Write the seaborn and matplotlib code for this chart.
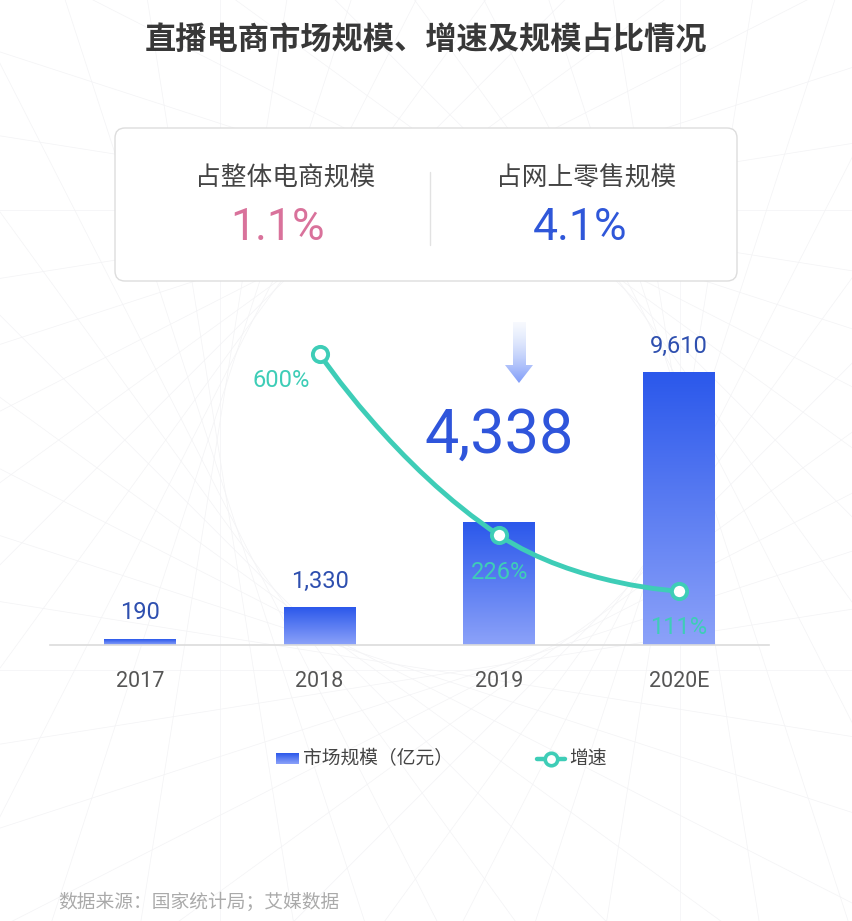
import numpy as np
import pandas as pd
import matplotlib
matplotlib.use('Agg')
import matplotlib.pyplot as plt
import seaborn as sns
from matplotlib.patches import FancyBboxPatch, Polygon, PathPatch
from matplotlib.path import Path
from matplotlib.lines import Line2D

# ---------------- data ----------------
years = ['2017', '2018', '2019', '2020E']
market_size = [190, 1330, 4338, 9610]
size_labels = ['190', '1,330', '4,338', '9,610']
growth_years = ['2018', '2019', '2020E']
growth_rate = [600, 226, 111]
growth_labels = ['600%', '226%', '111%']
title = '直播电商市场规模、增速及规模占比情况'
share_names = ['占整体电商规模', '占网上零售规模']
share_values = ['1.1%', '4.1%']
legend_names = ['市场规模（亿元）', '增速']
source = '数据来源：国家统计局；艾媒数据'

# ---------------- style ----------------
sns.set_theme(style='white')
plt.rcParams['font.family'] = ['Noto Sans CJK SC', 'DejaVu Sans']
NUM_FONT = ['Roboto', 'DejaVu Sans']
TEAL = '#3ECDB7'
BAR_TOP = np.array([43, 88, 235]) / 255
BAR_BOT = np.array([140, 162, 249]) / 255

W, H = 852, 921
fig = plt.figure(figsize=(W / 100, H / 100), dpi=100)
fig.patch.set_facecolor('white')

# background canvas in pixel units
bg = fig.add_axes([0, 0, 1, 1], zorder=0)
bg.set_xlim(0, W)
bg.set_ylim(H, 0)
bg.axis('off')

# very faint decorative line texture (tangents to a circle)
cx, cy, rr = 450, 440, 230
for ang in np.deg2rad(np.arange(0, 360, 9)):
    px, py = cx + rr * np.cos(ang), cy + rr * np.sin(ang)
    dx, dy = -np.sin(ang), np.cos(ang)
    bg.add_line(Line2D([px - 900 * dx, px + 900 * dx], [py - 900 * dy, py + 900 * dy],
                       color='#F3F3F5', lw=0.5, zorder=0.1))

# ---------------- bars ----------------
ax = fig.add_axes([50 / W, 276 / H, 719 / W, 345 / H], zorder=2)
ax.patch.set_alpha(0)
df = pd.DataFrame({'year': years, 'size': market_size})
sns.barplot(data=df, x='year', y='size', order=years, ax=ax, width=0.4,
            color='#2D5BEB', saturation=1)

t = np.linspace(0, 1, 256)[:, None, None]
grad_img = BAR_TOP * (1 - t) + BAR_BOT * t
for p in list(ax.patches):
    x0, y0, w, h = p.get_x(), p.get_y(), p.get_width(), p.get_height()
    ax.imshow(grad_img, extent=(x0, x0 + w, y0, y0 + h), aspect='auto',
              origin='upper', zorder=2)
    p.set_visible(False)

ax.set_xlim(-0.5, 3.5)
ax.set_ylim(0, 12180)
ax.set_xlabel('')
ax.set_ylabel('')
ax.set_yticks([])
ax.tick_params(axis='x', length=0, pad=19, labelsize=15.5, labelcolor='#555555')
for lab in ax.get_xticklabels():
    lab.set_family(NUM_FONT)
for s in ['left', 'right', 'top']:
    ax.spines[s].set_visible(False)
ax.spines['bottom'].set_color('#DCDCDC')
ax.spines['bottom'].set_linewidth(1.2)

# bar value labels
label_sizes = [17, 17, 44, 17]
label_offsets = [27, 26, 86, 26]
label_colors = ['#2E4FAF', '#2E4FAF', '#2F55DB', '#2E4FAF']
for i, (v, lab) in enumerate(zip(market_size, size_labels)):
    ax.annotate(lab, (i, v), xytext=(0, label_offsets[i]), textcoords='offset pixels',
                ha='center', va='center', fontsize=label_sizes[i],
                color=label_colors[i], family=NUM_FONT, zorder=6)

# ---------------- growth line ----------------
ax2 = ax.twinx()
ax2.set_zorder(3)
ax2.patch.set_alpha(0)
ax2.set_xlim(-0.5, 3.5)
ax2.set_ylim(0, 712)
ax2.set_yticks([])
for s in ax2.spines.values():
    s.set_visible(False)

gx = [years.index(y) for y in growth_years]
P = ax2.transData.transform(np.column_stack([gx, growth_rate]).astype(float))
n = len(P)
smooth = 0.5
cp_prev = [None] * n
cp_next = [None] * n
for i in range(n):
    if i == 0 or i == n - 1:
        cp_prev[i] = P[i]
        cp_next[i] = P[i]
    else:
        v = P[i + 1] - P[i - 1]
        d0 = np.linalg.norm(P[i] - P[i - 1])
        d1 = np.linalg.norm(P[i + 1] - P[i])
        cp_prev[i] = P[i] - v * smooth * d0 / (d0 + d1)
        cp_next[i] = P[i] + v * smooth * d1 / (d0 + d1)
verts = [P[0]]
codes = [Path.MOVETO]
for i in range(n - 1):
    verts += [cp_next[i], cp_prev[i + 1], P[i + 1]]
    codes += [Path.CURVE4] * 3
curve = Path(ax2.transData.inverted().transform(np.array(verts)), codes)
ax2.add_patch(PathPatch(curve, fill=False, edgecolor=TEAL, lw=3.5, zorder=4,
                        capstyle='round'))

sns.scatterplot(x=gx, y=growth_rate, ax=ax2, s=120, color='white',
                edgecolor=TEAL, linewidth=2.8, zorder=5, legend=False)

growth_offsets = [(-38, -26), (0, -37), (0, -36)]
for x, yv, lab, off in zip(gx, growth_rate, growth_labels, growth_offsets):
    ax2.annotate(lab, (x, yv), xytext=off, textcoords='offset pixels',
                 ha='center', va='center', fontsize=17, color=TEAL,
                 family=NUM_FONT, zorder=6)

# ---------------- title ----------------
bg.text(426, 41, title, ha='center', va='center', fontsize=22.5,
        color='#383838', fontweight='bold')

# ---------------- share box ----------------
bg.add_patch(FancyBboxPatch((115, 128), 622, 153,
                            boxstyle='round,pad=0,rounding_size=10',
                            facecolor='white', edgecolor='#DDDDDD', lw=1.0, zorder=1))
bg.add_line(Line2D([430, 430], [172, 245], color='#E2E2E2', lw=1.0, zorder=2))
share_x = [285, 586]
share_val_x = [278, 580]
share_colors = ['#D9729B', '#2F57D9']
for nx, vx, nm, val, col in zip(share_x, share_val_x, share_names, share_values, share_colors):
    bg.text(nx, 178, nm, ha='center', va='center', fontsize=18.5, color='#444444',
            fontweight='medium', zorder=3)
    bg.text(vx, 228, val, ha='center', va='center', fontsize=32, color=col,
            family=NUM_FONT, zorder=3)

# ---------------- gradient arrow ----------------
arrow_poly = Polygon([(513, 322), (526, 322), (526, 365), (533, 365), (519, 383),
                      (505, 365), (513, 365)], closed=True, facecolor='none',
                     edgecolor='none', transform=bg.transData)
bg.add_patch(arrow_poly)
ta = np.linspace(0, 1, 256)[:, None]
arrow_img = np.zeros((256, 1, 4))
arrow_img[..., 0] = (0.80 - 0.30 * ta)
arrow_img[..., 1] = (0.86 - 0.25 * ta)
arrow_img[..., 2] = 0.98
arrow_img[..., 3] = 0.15 + 0.85 * ta
im = bg.imshow(arrow_img, extent=(505, 533, 383, 322), aspect='auto',
               origin='upper', zorder=2)
im.set_clip_path(arrow_poly)

# ---------------- legend ----------------
bg.imshow(grad_img, extent=(276, 299, 764, 753), aspect='auto', origin='upper', zorder=2)
bg.text(303, 759, legend_names[0], ha='left', va='center', fontsize=13.5, color='#444444')
bg.add_line(Line2D([537, 565], [759, 759], color=TEAL, lw=3.2, zorder=2))
bg.add_line(Line2D([551], [759], marker='o', markersize=9, markerfacecolor='white',
                   markeredgecolor=TEAL, markeredgewidth=2.6, zorder=3))
bg.text(569, 759, legend_names[1], ha='left', va='center', fontsize=13.5, color='#444444')

# ---------------- source ----------------
bg.text(58, 902, source, ha='left', va='center', fontsize=13.5, color='#AAAAAA')

bg.set_xlim(0, W)
bg.set_ylim(H, 0)

fig.savefig('out.png', dpi=100, facecolor='white')
